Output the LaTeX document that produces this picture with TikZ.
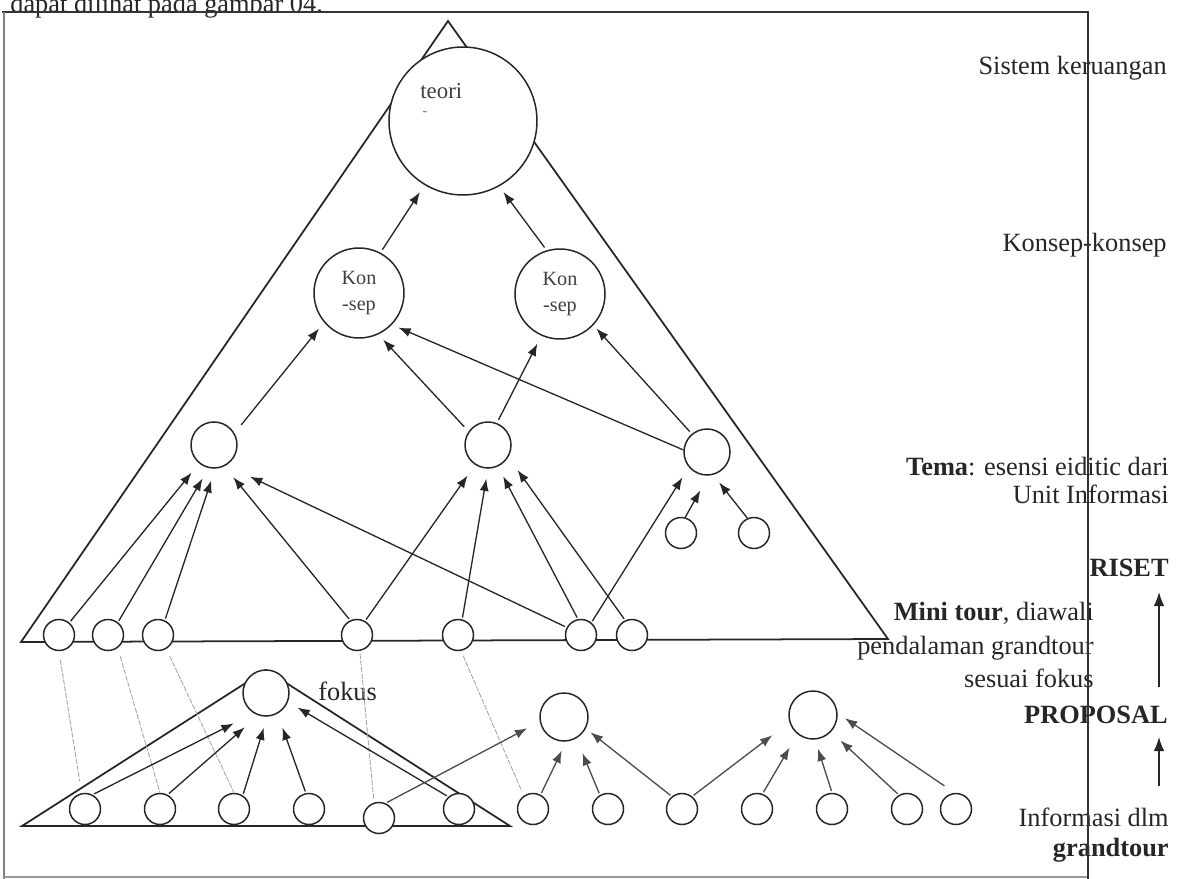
\documentclass[tikz,border=0pt]{standalone}
\usepackage{fontspec}
\setmainfont{Liberation Serif}
\usetikzlibrary{arrows.meta}
\begin{document}
\begin{tikzpicture}[x=0.02cm,y=-0.02cm,
  ln/.style={line width=1pt, draw=black!85},
  circ/.style={circle, draw=black!85, line width=0.85pt, fill=white, inner sep=0pt},
  bigc/.style={circ, minimum size=2.96cm},
  konc/.style={circ, minimum size=1.8cm, align=center, font=\fontsize{11.5}{15}\selectfont, text=black!75},
  temac/.style={circ, minimum size=0.92cm},
  midc/.style={circ, minimum size=0.96cm},
  dotc/.style={circ, minimum size=0.62cm},
  arr/.style={-{Latex[length=7pt,width=5.2pt]}, line width=0.75pt, draw=black!85},
  arrg/.style={arr, draw=black!70},
  guide/.style={line width=0.5pt, draw=black!35, dash pattern=on 3pt off 0.8pt},
  lab/.style={font=\fontsize{15}{18}\selectfont, inner sep=0pt, text=black!85},
  varr/.style={-{Latex[length=8pt,width=6pt]}, line width=0.8pt, draw=black!85},
]
\clip (0,0) rectangle (1177,879);
\fill[white] (0,0) rectangle (1177,879);

% caption of the page, cut off at the top as in the scan
\node[lab, anchor=base west] (toptext) at (10,12) {dapat dilihat pada gambar 04.};

% frame
\draw[line width=0.9pt, black!80] (2,12) -- (1088,12) -- (1088,879);
\draw[line width=1.6pt, black!50] (4,12) -- (4,879);
\draw[line width=0.6pt, black!40] (4,877) -- (1088,877);

% triangles
\draw[ln] (448,21) -- (21,642) -- (888,639) -- cycle;
\draw[ln] (266,670) -- (22,826) -- (510,826) -- cycle;

% nodes
\node[bigc] (teori) at (463,121) {};
\node[lab, anchor=base west, font=\fontsize{13}{15}\selectfont, text=black!75] (tlab) at (420,98) {teori};
\node[lab, font=\fontsize{8}{9}\selectfont, text=black!60] (tdash) at (425,114) {-};
\node[konc] (konL) at (359,293) {Kon\\-sep};
\node[konc] (konR) at (560,294) {Kon\\-sep};
\node[temac] (temaL) at (214,445) {};
\node[temac] (temaM) at (488,445) {};
\node[temac] (temaR) at (707,452) {};
\node[dotc] (s1) at (681,533) {};
\node[dotc] (s2) at (754,533) {};
\foreach \n/\x in {1/59,2/108,3/158,4/357,5/458,6/581,7/632}
  \node[dotc] (a\n) at (\x,635) {};
\node[temac] (fokus) at (266,693) {};
\node[lab, anchor=base west] (foklab) at (318,700) {fokus};
\node[midc] (m1) at (564,717) {};
\node[midc] (m2) at (813,715) {};
\foreach \n/\x in {1/85,2/160,3/234,4/309,6/459,7/533,8/608,9/682,10/757,11/832,12/907,13/956}
  \node[dotc] (b\n) at (\x,809) {};
\node[dotc] (b5) at (379,818) {};

% guide lines (grandtour -> mini tour)
\draw[guide, shorten <=5pt, shorten >=6.8pt] (a1.270) -- (b1.102);
\draw[guide, shorten <=5pt] (a2.307) -- (b2.90);
\draw[guide, shorten <=4.5pt] (a3.301) -- (b3.90);
\draw[guide, shorten <=1.5pt, shorten >=2pt] (a4.280) -- (b5.108);
\draw[guide, shorten <=3pt, shorten >=3pt] (a5.281) -- (b7.125);

% konsep -> teori
\draw[arr, shorten <=2pt, shorten >=4.8pt] (konL.62) -- (teori.239);
\draw[arr, shorten <=2pt, shorten >=4pt] (konR.107) -- (teori.299);
% tema -> konsep
\draw[arr, shorten <=6pt, shorten >=4.5pt] (temaL.30) -- (konL.220);
\draw[arr, shorten <=3.6pt, shorten >=4pt] (temaM.145) -- (konL.295);
\draw[arr, shorten >=4pt] (temaR.175) -- (konL.316);
\draw[arr, shorten <=2pt, shorten >=5pt] (temaM.68) -- (konR.246);
\draw[arr, shorten <=1.7pt, shorten >=2.5pt] (temaR.130) -- (konR.317);
% mini tour -> tema left
\draw[arr, shorten <=1pt, shorten >=6.7pt] (a1.50) -- (temaL.231);
\draw[arr, shorten <=1pt, shorten >=6.8pt] (a2.52) -- (temaL.257);
\draw[arr, shorten <=1pt, shorten >=7pt] (a3.65) -- (temaL.273);
\draw[arr, shorten <=1pt, shorten >=8pt] (a4.115) -- (temaL.296);
\draw[arr, shorten <=1pt, shorten >=15pt] (a6.152) -- (temaL.301);
% mini tour -> tema middle
\draw[arr, shorten <=1pt, shorten >=7.4pt] (a4.60) -- (temaM.237);
\draw[arr, shorten <=1pt, shorten >=5.7pt] (a5.75) -- (temaM.270);
\draw[arr, shorten <=1pt, shorten >=6.3pt] (a6.101) -- (temaM.295);
\draw[arr, shorten <=1pt, shorten >=9pt] (a7.115) -- (temaM.329);
% -> tema right
\draw[arr, shorten <=1pt, shorten >=6.8pt] (a6.50) -- (temaR.220);
\draw[arr, shorten >=9.7pt] (s1.75) -- (temaR.274);
\draw[arr, shorten >=5.5pt] (s2.114) -- (temaR.285);
% grandtour -> fokus
\draw[arr, shorten <=1pt, shorten >=12.8pt] (b1.62) -- (fokus.239);
\draw[arr, shorten <=1pt, shorten >=10.2pt] (b2.62) -- (fokus.251);
\draw[arr, shorten <=1pt, shorten >=6.5pt] (b3.57) -- (fokus.273);
\draw[arr, shorten <=1pt, shorten >=8.4pt] (b4.101) -- (fokus.299);
\draw[arr, shorten <=1pt, shorten >=6.3pt] (b6.131) -- (fokus.338);
% grandtour -> m1
\draw[arrg, shorten <=1pt, shorten >=8pt] (b5.66) -- (m1.191);
\draw[arrg, shorten <=1pt, shorten >=5.7pt] (b7.62) -- (m1.275);
\draw[arrg, shorten <=1pt, shorten >=9pt] (b8.120) -- (m1.300);
\draw[arrg, shorten <=1pt, shorten >=3.4pt] (b9.129) -- (m1.332);
% grandtour -> m2
\draw[arrg, shorten <=1pt, shorten >=12.2pt] (b9.51) -- (m2.197);
\draw[arrg, shorten <=1pt, shorten >=8.8pt] (b10.70) -- (m2.231);
\draw[arrg, shorten <=1pt, shorten >=5.4pt] (b11.90) -- (m2.275);
\draw[arrg, shorten <=1pt, shorten >=7.3pt] (b12.120) -- (m2.317);
\draw[arrg, shorten <=7pt, shorten >=5pt] (b13.95) -- (m2.4);

% right-hand labels
\node[lab, anchor=base east] (sist) at (1167,74) {Sistem keruangan};
\node[lab, anchor=base east] (konk) at (1167,251) {Konsep-konsep};
\node[lab, anchor=base east] (tema1) at (1169,475) {\textbf{Tema}: esensi eiditic dari};
\node[lab, anchor=base east] (tema2) at (1169,503) {Unit Informasi};
\node[lab, anchor=base east] (riset) at (1169,576) {\textbf{RISET}};
\node[lab, anchor=base east] (mini1) at (1094,620) {\textbf{Mini tour}, diawali};
\node[lab, anchor=base east] (mini2) at (1094,654) {pendalaman grandtour};
\node[lab, anchor=base east] (mini3) at (1094,687) {sesuai fokus};
\node[lab, anchor=base east] (prop) at (1168,723) {\textbf{PROPOSAL}};
\node[lab, anchor=base east] (info1) at (1169,826) {Informasi dlm};
\node[lab, anchor=base east] (info2) at (1169,856) {\textbf{grandtour}};

% frame line drawn over the labels it crosses
\draw[line width=0.9pt, black!80] (1088,12) -- (1088,879);

% RISET / PROPOSAL arrows
\coordinate (r1) at (1159,687);
\coordinate (r2) at (1159,592);
\coordinate (p1) at (1159,786);
\coordinate (p2) at (1159,737);
\draw[varr] (r1) -- (r2);
\draw[varr] (p1) -- (p2);
\end{tikzpicture}
\end{document}
